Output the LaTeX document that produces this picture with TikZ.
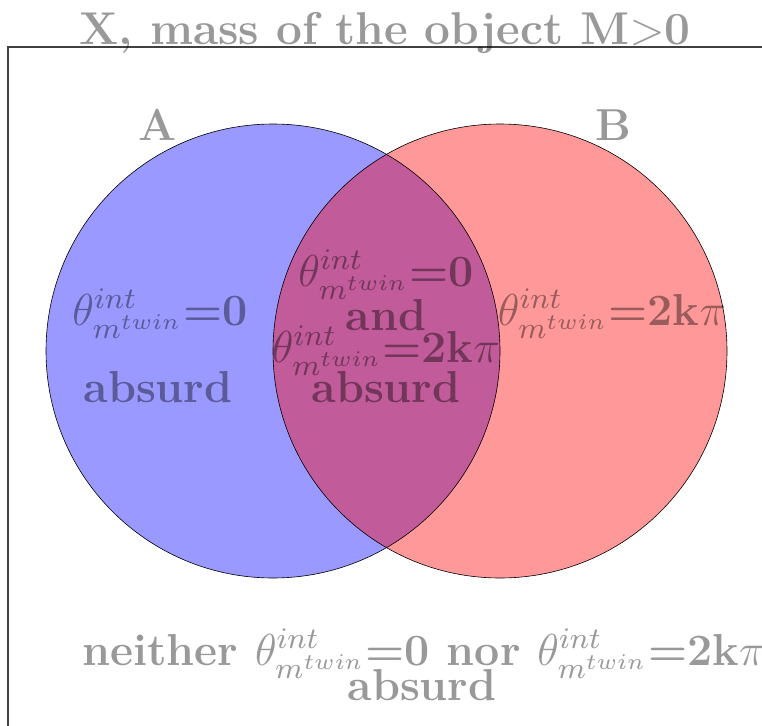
\RequirePackage{fix-cm}
\documentclass[tikz,border=0pt]{standalone}
\usepackage{graphicx}
\DeclareMathSizes{12}{12}{8}{6}
\newcommand{\bigtxt}[1]{\scalebox{3.73}{\fontsize{12}{14.5}\selectfont\bfseries #1}}
\newcommand{\titletxt}[1]{\scalebox{3.83}{\fontsize{12}{14.5}\selectfont\bfseries #1}}
\begin{document}
\begin{tikzpicture}[x=1pt,y=-1pt,
  lbl/.style={text=black!40,anchor=base,inner sep=0pt},
  circ/.style={draw=black,line width=0.6pt}]
\useasboundingbox (0,0) rectangle (762,725);
\fill[white] (0,0) rectangle (762,725);
% frame
\draw[black!75,line width=1.1pt] (8,790) -- (8,47) -- (800,47);
% circles
\coordinate (ca) at (273,351);
\coordinate (cb) at (500,351);
\fill[blue,fill opacity=0.4] (ca) circle[radius=227];
\fill[red,fill opacity=0.4] (cb) circle[radius=227];
\draw[circ] (ca) circle[radius=227];
\draw[circ] (cb) circle[radius=227];
\begin{scope}[blend mode=multiply]
\node[lbl] (title) at (385,45) {\titletxt{X, mass of the object M$>$0}};
\node[lbl] (la) at (158,140) {\bigtxt{A}};
\node[lbl] (lb) at (613,140) {\bigtxt{B}};
\node[lbl] (a1) at (160,325) {\bigtxt{$\theta^{int}_{m^{twin}}$=0}};
\node[lbl] (a2) at (158,402) {\bigtxt{absurd}};
\node[lbl] (i1) at (386,286) {\bigtxt{$\theta^{int}_{m^{twin}}$=0}};
\node[lbl] (i2) at (386,330) {\bigtxt{and}};
\node[lbl] (i3) at (386,362) {\bigtxt{$\theta^{int}_{m^{twin}}$=2k$\pi$}};
\node[lbl] (i4) at (386,402) {\bigtxt{absurd}};
\node[lbl] (b1) at (612,325) {\bigtxt{$\theta^{int}_{m^{twin}}$=2k$\pi$}};
\node[lbl,anchor=base west] (n1) at (82,665) {\bigtxt{neither $\theta^{int}_{m^{twin}}$=0 nor $\theta^{int}_{m^{twin}}$=2k$\pi$}};
\node[lbl] (n2) at (422,700) {\bigtxt{absurd}};
\end{scope}
\end{tikzpicture}
\end{document}
